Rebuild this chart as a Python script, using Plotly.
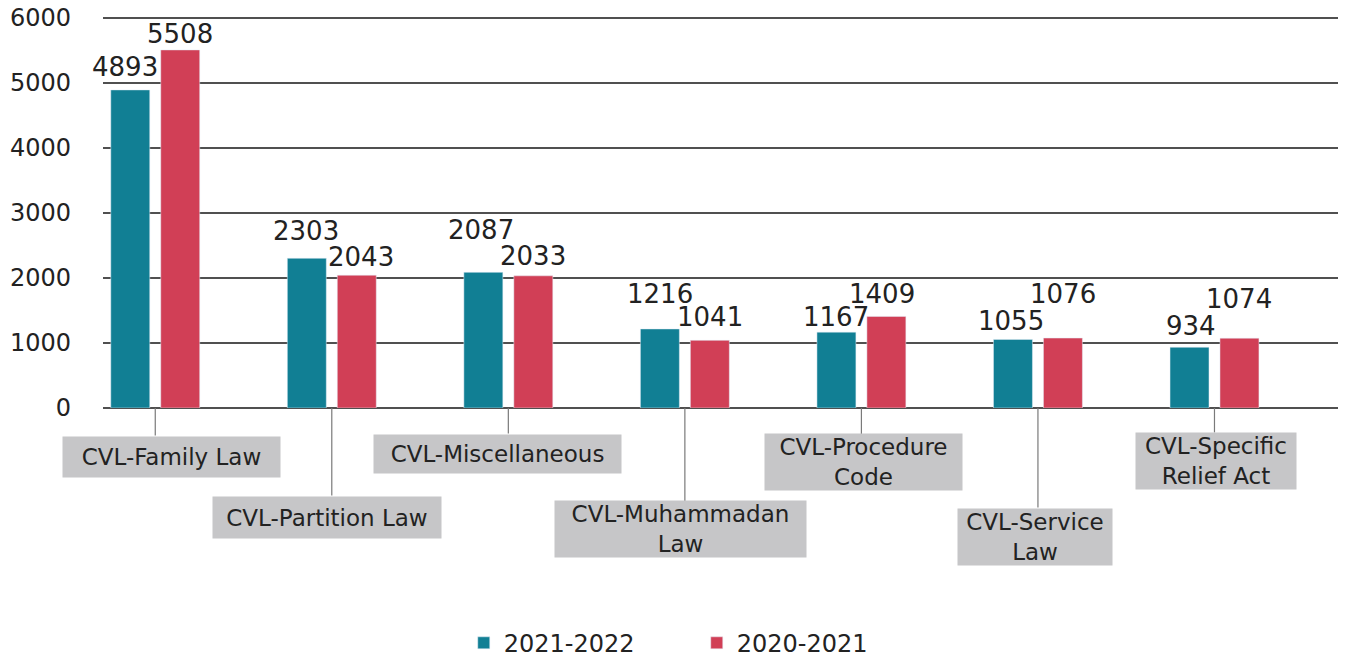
import plotly.graph_objects as go

# ---- data ----
categories = ["CVL-Family Law", "CVL-Partition Law", "CVL-Miscellaneous",
              "CVL-Muhammadan Law", "CVL-Procedure Code", "CVL-Service Law",
              "CVL-Specific Relief Act"]
tick_labels = ["CVL-Family Law", "CVL-Partition Law", "CVL-Miscellaneous",
               "CVL-Muhammadan<br>Law", "CVL-Procedure<br>Code", "CVL-Service<br>Law",
               "CVL-Specific<br>Relief Act"]
series_names = ["2021-2022", "2020-2021"]
values_2122 = [4893, 2303, 2087, 1216, 1167, 1055, 934]
values_2021 = [5508, 2043, 2033, 1041, 1409, 1076, 1074]

# ---- styling / layout helpers (pixels) ----
TEAL = "#117f94"
RED = "#d13f56"
BOX = "#c6c6c8"
TXT = "#222222"
FONT = "DejaVu Sans"
PAGE_OFFSET = 8  # default body margin of the html page

# data-label offsets (dx, dy) in px relative to bar top/center
lab_off_2122 = [(-5, 23), (-1, 27), (-2, 42), (0, 35), (0, 15), (-2, 18), (2, 21)]
lab_off_2021 = [(0, 16), (4, 18), (0, 20), (0, 23), (-4, 22), (0, 44), (0, 39)]
# category boxes: (xshift, yshift(center below axis), width, height, connector length)
box_spec = [(16, 49, 217, 40, 29), (-5, 109, 228, 41, 89), (-11, 46, 247, 38, 27),
            (-4, 121, 251, None, 97), (2, 54, 197, None, 28), (-3, 129, 154, None, 101),
            (2, 53, 160, None, 26)]

fig = go.Figure()
fig.add_trace(go.Bar(x=categories, y=values_2122, name=series_names[0], marker_color=TEAL))
fig.add_trace(go.Bar(x=categories, y=values_2021, name=series_names[1], marker_color=RED))

annotations = []
SLOT = 25
for i, cat in enumerate(categories):
    xs, ys, w, h, clen = box_spec[i]
    # connector line from axis down to the label box
    annotations.append(dict(x=cat, y=0, xref="x", yref="y", text="", showarrow=True,
                            ax=0, ay=clen, axref="pixel", ayref="pixel",
                            arrowhead=0, arrowwidth=1.2, arrowcolor="#7a7a7a",
                            standoff=0, startstandoff=0))
    for vals, offs, sgn in ((values_2122, lab_off_2122, -1), (values_2021, lab_off_2021, 1)):
        dx, dy = offs[i]
        annotations.append(dict(x=cat, y=vals[i], xref="x", yref="y", text=str(vals[i]),
                                showarrow=False, xshift=sgn * SLOT + dx, yshift=dy,
                                yanchor="middle", xanchor="center",
                                font=dict(family=FONT, size=26, color=TXT)))
    box = dict(x=cat, y=0, xref="x", yref="y", text=tick_labels[i],
               showarrow=False, xshift=xs, yshift=-ys, yanchor="middle",
               xanchor="center", bgcolor=BOX, width=w,
               borderpad=0, align="center", valign="middle",
               font=dict(family=FONT, size=23, color=TXT))
    if h is not None:
        box["height"] = h
    annotations.append(box)

fig.update_layout(
    width=1346 - PAGE_OFFSET, height=660 - PAGE_OFFSET,
    margin=dict(l=103 - PAGE_OFFSET, r=6, t=16 - PAGE_OFFSET, b=252, autoexpand=False),
    paper_bgcolor="white", plot_bgcolor="white",
    barmode="group", bargap=0.434, bargroupgap=0.22,
    font=dict(family=FONT, color=TXT),
    annotations=annotations,
    showlegend=True,
    legend=dict(orientation="h", x=0.48, xanchor="center", y=-0.6, yanchor="middle",
                font=dict(family=FONT, size=24, color=TXT), itemwidth=30,
                entrywidth=188, traceorder="normal"),
    xaxis=dict(type="category", range=[-0.296, 6.711], showticklabels=False,
               showgrid=False, ticks="", showline=False, zeroline=False),
    yaxis=dict(range=[0, 6030], dtick=1000, tick0=0, showgrid=True, gridcolor="#505050",
               gridwidth=1.6, zeroline=True, zerolinecolor="#505050", zerolinewidth=1.6,
               showline=False, ticks="", ticklabelstandoff=31, ticklabeloverflow="allow",
               tickfont=dict(family=FONT, size=24, color=TXT)),
)

fig.write_html("out.html")
